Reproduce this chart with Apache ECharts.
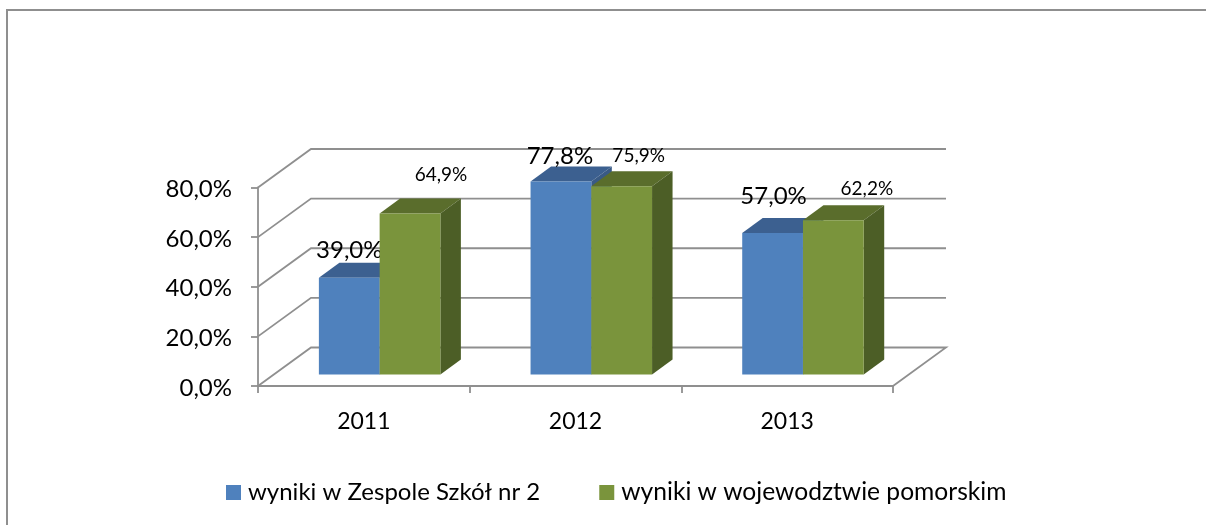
<!DOCTYPE html>
<html>
<head>
<meta charset="utf-8">
<title>wyniki</title>
<style>
  html, body { margin: 0; padding: 0; background: #fff; }
  #chart { width: 1206px; height: 525px; }
</style>
<script src="https://cdn.jsdelivr.net/npm/echarts@6/dist/echarts.min.js"></script>
</head>
<body>
<div id="chart"></div>
<script>
const years = ['2011', '2012', '2013'];
const schoolValues = [39.0, 77.8, 57.0];
const regionValues = [64.9, 75.9, 62.2];
const yTicks = [0, 20, 40, 60, 80];
const schoolName = 'wyniki w Zespole Szkół nr 2';
const regionName = 'wyniki w wojewodztwie pomorskim';

const FONT = 'Lato';
const LINE = '#8f8f8f';

// rzut 3D: przesuniecie tylnej sciany wzgledem przedniej osi
const WALL_DX = 53;
const WALL_DY = -38.5;
// slupki: odsuniecie od przedniej osi i glebokosc
const BAR_DX = 15.8;
const BAR_DY = -11.5;
const DEPTH_DX = 20.5;
const DEPTH_DY = -15;
const BAR_WIDTH = 0.287; // czesc szerokosci kategorii

// reczne przesuniecia etykiet wzgledem srodka gornej krawedzi slupka
const schoolNudge = [[0, -27], [-1, -25.5], [1, -36.5]];
const regionNudge = [[31, -39], [17, -30], [33.5, -31.5]];

const fmt = (v) => v.toFixed(1).replace('.', ',') + '%';

const poly = (points, fill) => ({
    type: 'polygon',
    shape: { points: points },
    style: { fill: fill }
});

// side: -1 lewy slupek pary, 0 prawy
const barRenderer = (side, front, top, right, nudge, fontSize) => (params, api) => {
    const idx = api.value(0);
    const val = api.value(1);
    const band = api.size([1, 0])[0];
    const w = band * BAR_WIDTH;
    const base = api.coord([idx, 0]);
    const head = api.coord([idx, val]);
    const x0 = base[0] + BAR_DX + side * w;
    const x1 = x0 + w;
    const y0 = base[1] + BAR_DY;
    const y1 = head[1] + BAR_DY;
    const n = nudge[idx];
    return {
        type: 'group',
        children: [
            poly([[x0, y1], [x0 + DEPTH_DX, y1 + DEPTH_DY], [x1 + DEPTH_DX, y1 + DEPTH_DY], [x1, y1]], top),
            poly([[x1, y1], [x1 + DEPTH_DX, y1 + DEPTH_DY], [x1 + DEPTH_DX, y0 + DEPTH_DY], [x1, y0]], right),
            poly([[x0, y1], [x1, y1], [x1, y0], [x0, y0]], front),
            {
                type: 'text',
                z2: 100,
                style: {
                    text: fmt(val),
                    x: (x0 + x1) / 2 + n[0],
                    y: y1 + n[1],
                    align: 'center',
                    verticalAlign: 'middle',
                    fontFamily: FONT,
                    fontSize: fontSize,
                    fill: '#000'
                }
            }
        ]
    };
};

// linie siatki na scianach wykresu
const wallRenderer = (params, api) => {
    const v = api.value(0);
    const band = api.size([1, 0])[0];
    const first = api.coord([0, v]);
    const last = api.coord([years.length - 1, v]);
    const left = [first[0] - band / 2, first[1]];
    const right = [last[0] + band / 2, last[1]];
    const pts = [left, [left[0] + WALL_DX, left[1] + WALL_DY], [right[0] + WALL_DX, right[1] + WALL_DY]];
    if (v === 0) pts.push(right);
    return {
        type: 'polyline',
        shape: { points: pts },
        style: { fill: 'none', stroke: LINE, lineWidth: 1.8 }
    };
};

const chart = echarts.init(document.getElementById('chart'));
chart.setOption({
    animation: false,
    backgroundColor: '#fff',
    textStyle: { fontFamily: FONT },
    grid: { left: 258, right: 313, top: 187.5, bottom: 139 },
    legend: {
        left: 226,
        top: 480,
        padding: 0,
        itemWidth: 15,
        itemHeight: 15,
        itemGap: 59,
        icon: 'rect',
        data: [schoolName, { name: regionName, textStyle: { fontSize: 24.6 } }],
        textStyle: { fontFamily: FONT, fontSize: 24, color: '#000', padding: [0, 0, 0, 2] }
    },
    xAxis: {
        type: 'category',
        data: years,
        boundaryGap: true,
        axisLine: { show: true, lineStyle: { color: LINE, width: 1.8 } },
        axisTick: { show: true, alignWithLabel: false, length: 7, lineStyle: { color: LINE, width: 1.8 } },
        axisLabel: { fontFamily: FONT, fontSize: 23, color: '#000', margin: 24 },
        splitLine: { show: false }
    },
    yAxis: {
        type: 'value',
        min: 0,
        max: 80,
        interval: 20,
        axisLine: { show: true, lineStyle: { color: LINE, width: 1.8 } },
        axisTick: { show: true, length: 7, lineStyle: { color: LINE, width: 1.8 } },
        axisLabel: {
            fontFamily: FONT,
            fontSize: 24,
            color: '#000',
            margin: 26,
            // etykiety siedza ok. 2px ponizej kreski
            verticalAlign: 'top',
            lineHeight: 4,
            formatter: (v) => fmt(v)
        },
        splitLine: { show: false }
    },
    series: [
        {
            type: 'custom',
            silent: true,
            legendHoverLink: false,
            renderItem: wallRenderer,
            encode: { y: 0 },
            data: yTicks.map((v) => [v]),
            z: 1
        },
        {
            type: 'custom',
            name: schoolName,
            itemStyle: { color: '#4f81bd' },
            renderItem: barRenderer(-1, '#4f81bd', '#3c6090', '#395a85', schoolNudge, 24),
            encode: { x: 0, y: 1 },
            data: schoolValues.map((v, i) => [i, v]),
            z: 2
        },
        {
            type: 'custom',
            name: regionName,
            itemStyle: { color: '#7a943c' },
            renderItem: barRenderer(0, '#7a943c', '#5a6d2c', '#4c5e26', regionNudge, 19),
            encode: { x: 0, y: 1 },
            data: regionValues.map((v, i) => [i, v]),
            z: 3
        }
    ],
    graphic: [
        {
            type: 'polyline',
            silent: true,
            shape: { points: [[7, 525], [7, 10], [1206, 10]] },
            style: { fill: 'none', stroke: LINE, lineWidth: 2 }
        }
    ]
});
</script>
</body>
</html>
